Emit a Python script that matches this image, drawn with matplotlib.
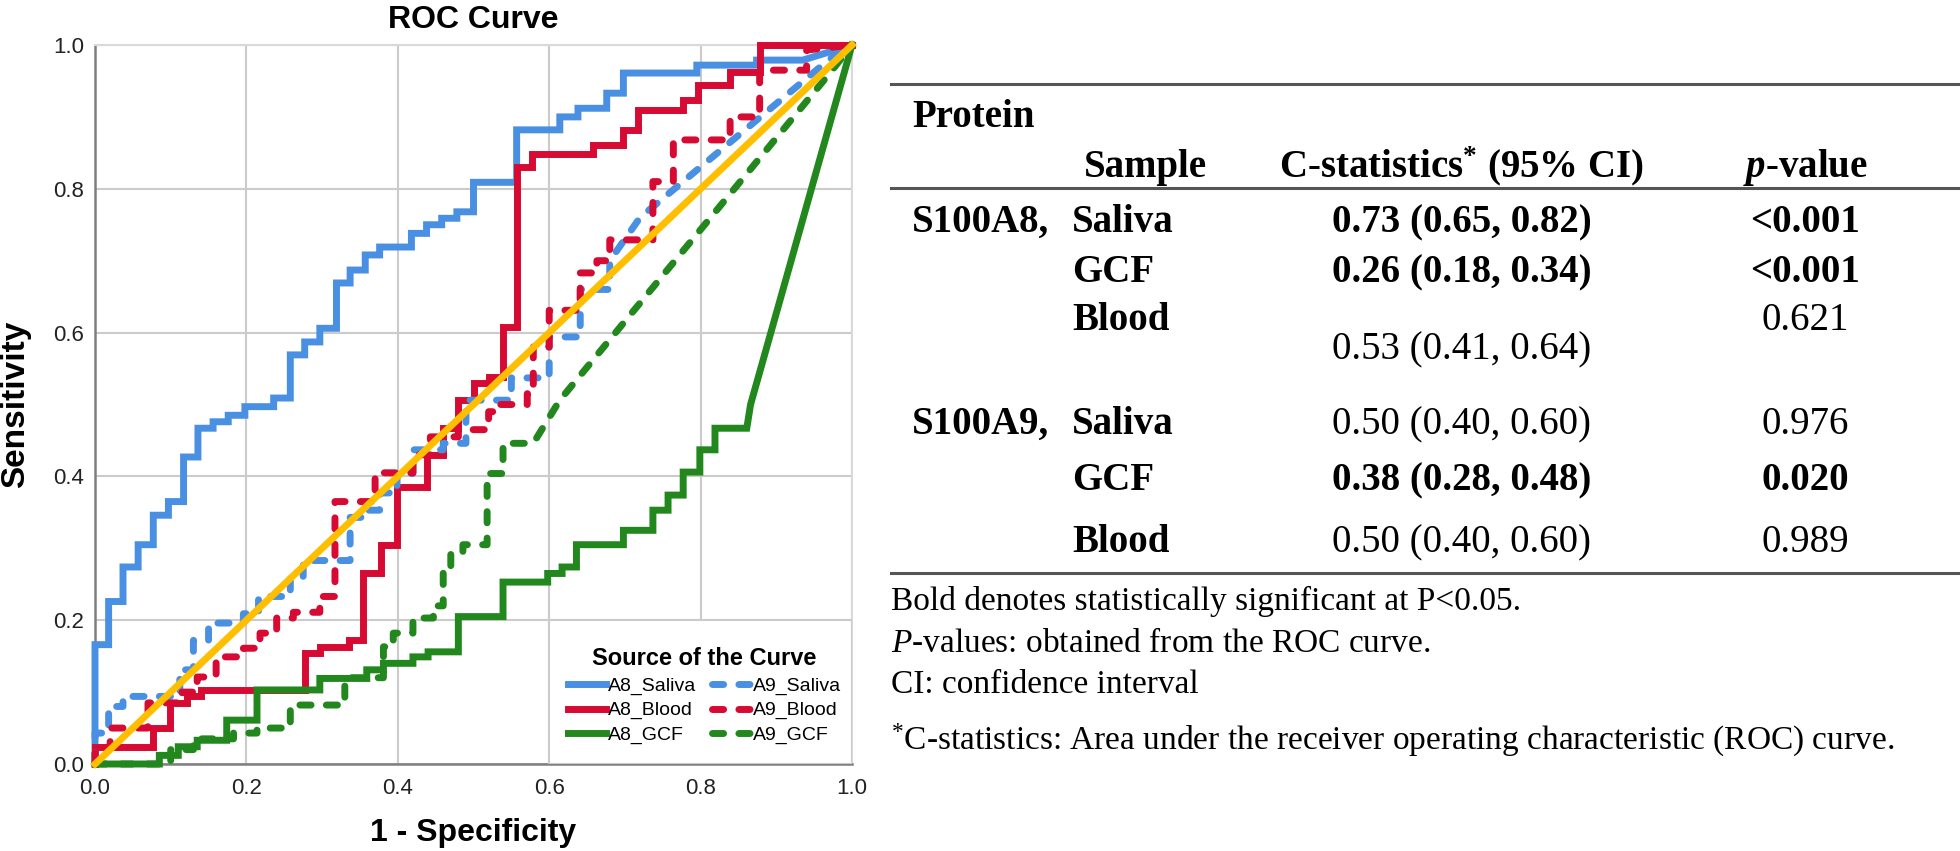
import numpy as np
import matplotlib
matplotlib.use("Agg")
import matplotlib.pyplot as plt
from matplotlib.lines import Line2D
from matplotlib.patches import Rectangle

plt.rcParams['font.family'] = ['Liberation Sans', 'DejaVu Sans']
plt.rcParams['mathtext.fontset'] = 'custom'
plt.rcParams['mathtext.rm'] = 'Liberation Serif'
plt.rcParams['mathtext.it'] = 'Liberation Serif:italic:bold'
plt.rcParams['mathtext.bf'] = 'Liberation Serif:bold'
plt.rcParams['mathtext.sf'] = 'Liberation Serif:italic'

# ROC staircases: x where the curve steps up, y after the step,
# plus the straight tail to (1, 1)
a8_saliva_x = [0, 0.018, 0.037, 0.057, 0.077, 0.097, 0.117, 0.136, 0.156, 0.176,
               0.198, 0.236, 0.258, 0.277, 0.297, 0.319, 0.337, 0.357, 0.376, 0.418,
               0.438, 0.458, 0.478, 0.50, 0.557, 0.614, 0.638, 0.676, 0.698, 0.795, 0.874]
a8_saliva_y = [0.166, 0.226, 0.274, 0.305, 0.346, 0.365, 0.427, 0.467, 0.476, 0.485,
               0.497, 0.509, 0.569, 0.587, 0.606, 0.669, 0.687, 0.708, 0.719, 0.738,
               0.75, 0.759, 0.768, 0.809, 0.882, 0.90, 0.912, 0.933, 0.961, 0.972, 0.979]
a8_saliva_tail = ([0.935, 1.0], [0.979, 1.0])

a8_blood_x = [0, 0.077, 0.099, 0.121, 0.14, 0.277, 0.297, 0.335, 0.354, 0.378,
              0.399, 0.438, 0.46, 0.48, 0.50, 0.52, 0.539, 0.557, 0.577, 0.658,
              0.698, 0.717, 0.777, 0.797, 0.839, 0.878]
a8_blood_y = [0.024, 0.05, 0.085, 0.094, 0.103, 0.154, 0.163, 0.172, 0.265, 0.305,
              0.385, 0.43, 0.468, 0.506, 0.53, 0.538, 0.608, 0.830, 0.849, 0.861,
              0.882, 0.910, 0.923, 0.944, 0.963, 1.0]
a8_blood_tail = ([1.0], [1.0])

a8_gcf_x = [0.085, 0.11, 0.135, 0.174, 0.214, 0.297, 0.359, 0.381, 0.42, 0.44,
            0.48, 0.539, 0.598, 0.617, 0.636, 0.698, 0.737, 0.757, 0.777, 0.799, 0.819]
a8_gcf_y = [0.012, 0.024, 0.033, 0.061, 0.103, 0.119, 0.131, 0.140, 0.149, 0.156,
            0.205, 0.253, 0.265, 0.274, 0.305, 0.325, 0.353, 0.374, 0.406, 0.437, 0.467]
a8_gcf_tail = ([0.861, 0.866, 1.0], [0.467, 0.50, 1.0])

a9_saliva_x = [0, 0.018, 0.037, 0.112, 0.130, 0.150, 0.196, 0.216, 0.258, 0.275,
               0.337, 0.355, 0.376, 0.399, 0.42, 0.46, 0.49, 0.55, 0.60, 0.641, 0.68]
a9_saliva_y = [0.043, 0.080, 0.094, 0.131, 0.172, 0.196, 0.209, 0.233, 0.261, 0.283,
               0.343, 0.353, 0.377, 0.404, 0.437, 0.446, 0.506, 0.537, 0.594, 0.66, 0.70]
a9_saliva_tail = ([0.72, 0.97, 1.0], [0.76, 0.98, 1.0])

a9_blood_x = [0, 0.02, 0.07, 0.115, 0.135, 0.16, 0.196, 0.218, 0.24, 0.262,
              0.297, 0.317, 0.37, 0.42, 0.443, 0.48, 0.52, 0.531, 0.571, 0.579,
              0.60, 0.641, 0.663, 0.68, 0.737, 0.764, 0.839, 0.878, 0.94]
a9_blood_y = [0.022, 0.05, 0.085, 0.10, 0.121, 0.149, 0.161, 0.182, 0.203, 0.211,
              0.233, 0.365, 0.405, 0.43, 0.455, 0.465, 0.49, 0.50, 0.515, 0.58,
              0.631, 0.683, 0.70, 0.729, 0.81, 0.868, 0.90, 0.965, 0.993]
a9_blood_tail = ([1.0], [1.0])

a9_gcf_x = [0.10, 0.13, 0.183, 0.214, 0.258, 0.33, 0.381, 0.394, 0.42, 0.447,
            0.46, 0.47, 0.486, 0.518, 0.539]
a9_gcf_y = [0.02, 0.035, 0.043, 0.050, 0.082, 0.12, 0.163, 0.182, 0.203, 0.22,
            0.27, 0.293, 0.305, 0.404, 0.446]
a9_gcf_tail = ([0.579, 0.614, 0.97, 1.0], [0.446, 0.506, 0.96, 1.0])

curve_names = ['A8_Saliva', 'A8_Blood', 'A8_GCF', 'A9_Saliva', 'A9_Blood', 'A9_GCF']
tick_vals = [0.0, 0.2, 0.4, 0.6, 0.8, 1.0]

# table on the right
t_protein = ['S100A8,', '', '', 'S100A9,', '', '']
t_sample = ['Saliva', 'GCF', 'Blood', 'Saliva', 'GCF', 'Blood']
t_cstat = ['0.73 (0.65, 0.82)', '0.26 (0.18, 0.34)', '0.53 (0.41, 0.64)',
           '0.50 (0.40, 0.60)', '0.38 (0.28, 0.48)', '0.50 (0.40, 0.60)']
t_pval = ['<0.001', '<0.001', '0.621', '0.976', '0.020', '0.989']
t_bold = [True, True, False, False, True, False]
notes = ['Bold denotes statistically significant at P<0.05.',
         r'$\mathsf{P}$-values: obtained from the ROC curve.',
         'CI: confidence interval',
         r'${}^{*}$C-statistics: Area under the receiver operating characteristic (ROC) curve.']


def roc_path(xs, ys, tail):
    fpr = [0.0] + list(np.repeat(xs, 2)) + list(tail[0])
    tpr = [0.0, 0.0] + list(np.repeat(ys, 2))[:-1] + list(tail[1])
    return fpr, tpr


W, H = 1960, 851
fig = plt.figure(figsize=(W / 100, H / 100), dpi=100)
ax = fig.add_axes([95 / W, 1 - 764 / H, 757 / W, 719 / H])

blue, red, green, orange = '#4A90E2', '#D60A32', '#22881E', '#FFBF00'
curves = [
    (a8_saliva_x, a8_saliva_y, a8_saliva_tail, blue, False),
    (a8_blood_x, a8_blood_y, a8_blood_tail, red, False),
    (a8_gcf_x, a8_gcf_y, a8_gcf_tail, green, False),
    (a9_saliva_x, a9_saliva_y, a9_saliva_tail, blue, True),
    (a9_blood_x, a9_blood_y, a9_blood_tail, red, True),
    (a9_gcf_x, a9_gcf_y, a9_gcf_tail, green, True),
]
lw = 5
handles = []
for (xs, ys, tail, col, dashed), name in zip(curves, curve_names):
    fpr, tpr = roc_path(xs, ys, tail)
    if dashed:
        ln, = ax.plot(fpr, tpr, color=col, lw=lw, dashes=(1.6, 2.2),
                      dash_capstyle='round', label=name, clip_on=False, zorder=3)
    else:
        ln, = ax.plot(fpr, tpr, color=col, lw=lw, label=name, clip_on=False,
                      zorder=3, solid_joinstyle='miter')
    handles.append(ln)

# reference line
ax.plot([0, 1], [0, 1], color=orange, lw=lw, zorder=4, clip_on=False)

ax.set_xlim(0, 1)
ax.set_ylim(0, 1)
ax.set_xticks(tick_vals)
ax.set_yticks(tick_vals)
ax.set_xticklabels(['%.1f' % v for v in tick_vals])
ax.set_yticklabels(['%.1f' % v for v in tick_vals])
ax.tick_params(length=0, labelsize=16, colors='#222222')
ax.tick_params(axis='x', pad=10)
ax.tick_params(axis='y', pad=8)
ax.grid(color='#CBCBCB', lw=1.5)
ax.set_axisbelow(True)
for s in ['left', 'bottom']:
    ax.spines[s].set_color('#7F7F7F')
    ax.spines[s].set_linewidth(1.8)
for s in ['top', 'right']:
    ax.spines[s].set_color('#D9D9D9')
    ax.spines[s].set_linewidth(1.5)

ax.set_title('ROC Curve', fontsize=23, fontweight='bold', pad=12)
ax.set_xlabel('1 - Specificity', fontsize=23, fontweight='bold')
ax.set_ylabel('Sensitivity', fontsize=24, fontweight='bold')
ax.xaxis.set_label_coords(0.5, -0.075)
ax.yaxis.set_label_coords(-0.084, 0.5)

# legend sits in a white box over the lower right cell
ax.add_patch(Rectangle((0.6, 0.0), 0.4, 0.2, transform=ax.transAxes, fc='white',
                       ec='#CBCBCB', lw=1.5, zorder=5))
leg = ax.legend(handles, curve_names, ncol=2, loc='center', bbox_to_anchor=(0.805, 0.095),
                frameon=False, fontsize=14, title='Source of the Curve',
                title_fontproperties={'weight': 'bold', 'size': 17},
                handlelength=2.0, handletextpad=0.1, columnspacing=0.8,
                labelspacing=0.35, borderpad=0.2)
leg.set_zorder(6)

# ---- table ----
serif = 'Liberation Serif'


def fx(px):
    return px / W


def fy(py):
    return 1 - py / H


for py in (84, 188, 573):
    fig.add_artist(Line2D([fx(891), 1.0], [fy(py), fy(py)], color='#555555', lw=2.2))

big = 28
off = 12  # baseline below row centre, px
fig.text(fx(912), fy(115 + off), 'Protein', family=serif, weight='bold', size=big)
fig.text(fx(1145), fy(165 + off), 'Sample', family=serif, weight='bold', size=big, ha='center')
fig.text(fx(1462), fy(165 + off), r'C-statistics$^{\mathbf{*}}$ (95% CI)', family=serif,
         weight='bold', size=big, ha='center')
fig.text(fx(1805), fy(165 + off), r'$p$-value', family=serif, weight='bold', size=big,
         ha='center')

row_y = [220, 270, 318, 422, 478, 540]
for i in range(len(t_sample)):
    yb = fy(row_y[i] + off)
    if t_protein[i]:
        fig.text(fx(912), yb, t_protein[i], family=serif, weight='bold', size=big)
    fig.text(fx(1072), yb, t_sample[i], family=serif, weight='bold', size=big)
    w = 'bold' if t_bold[i] else 'normal'
    yc = fy(347 + off) if i == 2 else yb
    fig.text(fx(1462), yc, t_cstat[i], family=serif, weight=w, size=big, ha='center')
    fig.text(fx(1805), yb, t_pval[i], family=serif, weight=w, size=big, ha='center')

note_y = [600, 642, 683, 740]
for s, py in zip(notes, note_y):
    fig.text(fx(891), fy(py + 10), s, family=serif, size=24)

fig.savefig('out.png', dpi=100)
